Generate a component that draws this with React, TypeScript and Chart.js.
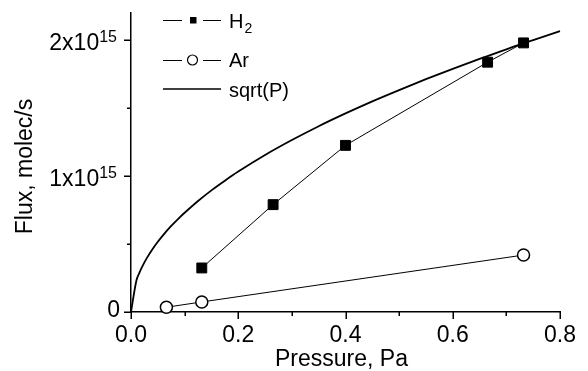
import React, { useEffect, useRef } from 'react';
import { Chart, registerables } from 'chart.js';

Chart.register(...registerables);

// ---- data ----
const h2Pressure = [0.132, 0.265, 0.4, 0.665, 0.732];
const h2Flux = [0.324e15, 0.79e15, 1.226e15, 1.838e15, 1.98e15];

const arPressure = [0.066, 0.132, 0.732];
const arFlux = [0.035e15, 0.074e15, 0.419e15];

const sqrtPressure = [0, 0.01, 0.015, 0.02, 0.03, 0.04, 0.05, 0.06, 0.075, 0.09, 0.1, 0.125, 0.15, 0.175, 0.2, 0.25, 0.3, 0.35, 0.4, 0.45, 0.5, 0.55, 0.6, 0.65, 0.7, 0.75, 0.8];
const sqrtFlux = [0, 0.23e15, 0.283e15, 0.327e15, 0.4e15, 0.462e15, 0.517e15, 0.566e15, 0.633e15, 0.693e15, 0.73e15, 0.817e15, 0.895e15, 0.966e15, 1.033e15, 1.155e15, 1.265e15, 1.367e15, 1.461e15, 1.55e15, 1.633e15, 1.713e15, 1.789e15, 1.862e15, 1.933e15, 2.0e15, 2.066e15];

const xMajorTicks = [0, 0.2, 0.4, 0.6, 0.8];
const xTickLabels = ['0.0', '0.2', '0.4', '0.6', '0.8'];
const xMinorTicks = [0.1, 0.3, 0.5, 0.7];

const yMajorTicks = [0, 1e15, 2e15];
const yTickMantissa = ['0', '1x10', '2x10'];
const yTickExponent = ['', '15', '15'];
const yMinorTicks = [0.5e15, 1.5e15];

const legendMain = ['H', 'Ar', 'sqrt(P)'];
const legendSub = ['2', '', ''];

const xTitle = 'Pressure, Pa';
const yTitle = 'Flux, molec/s';

const FONT = '"Liberation Sans", Arial, Helvetica, sans-serif';

const toPoints = (xs: number[], ys: number[]) => xs.map((x, i) => ({ x, y: ys[i] }));

const axesPlugin = {
  id: 'originAxes',
  afterDraw(chart: any) {
    const ctx = chart.ctx as CanvasRenderingContext2D;
    const xs = chart.scales.x;
    const ys = chart.scales.y;
    const area = chart.chartArea;
    ctx.save();
    ctx.strokeStyle = '#000';
    ctx.fillStyle = '#000';
    ctx.lineWidth = 1.5;

    // x ticks
    ctx.beginPath();
    xMajorTicks.forEach((v) => {
      const px = Math.round(xs.getPixelForValue(v)) + 0.25;
      ctx.moveTo(px, area.bottom);
      ctx.lineTo(px, area.bottom + 7);
    });
    xMinorTicks.forEach((v) => {
      const px = Math.round(xs.getPixelForValue(v)) + 0.25;
      ctx.moveTo(px, area.bottom);
      ctx.lineTo(px, area.bottom + 4);
    });
    // y ticks
    yMajorTicks.forEach((v) => {
      const py = Math.round(ys.getPixelForValue(v)) + 0.25;
      ctx.moveTo(area.left, py);
      ctx.lineTo(area.left - 7, py);
    });
    yMinorTicks.forEach((v) => {
      const py = Math.round(ys.getPixelForValue(v)) + 0.25;
      ctx.moveTo(area.left, py);
      ctx.lineTo(area.left - 4, py);
    });
    ctx.stroke();

    // x tick labels
    ctx.font = `23px ${FONT}`;
    ctx.textAlign = 'center';
    ctx.textBaseline = 'alphabetic';
    xMajorTicks.forEach((v, i) => {
      const px = xs.getPixelForValue(v);
      ctx.fillText(xTickLabels[i], px, area.bottom + 30);
    });

    // y tick labels with superscript
    yMajorTicks.forEach((v, i) => {
      const py = ys.getPixelForValue(v);
      const exp = yTickExponent[i];
      if (exp) {
        ctx.font = `16px ${FONT}`;
        ctx.textAlign = 'right';
        const right = area.left - 14;
        const w = ctx.measureText(exp).width;
        ctx.fillText(exp, right, py + 2);
        ctx.font = `23px ${FONT}`;
        ctx.fillText(yTickMantissa[i], right - w, py + 10);
      } else {
        ctx.font = `23px ${FONT}`;
        ctx.textAlign = 'right';
        ctx.fillText(yTickMantissa[i], area.left - 11, py + 5);
      }
    });

    // axis titles
    ctx.font = `23px ${FONT}`;
    ctx.textAlign = 'center';
    ctx.fillText(xTitle, (area.left + area.right) / 2 - 4, 366);
    ctx.save();
    ctx.translate(32, (area.top + area.bottom) / 2 + 4);
    ctx.rotate(-Math.PI / 2);
    ctx.fillText(yTitle, 0, 0);
    ctx.restore();

    // legend
    const rowsY = [20, 60, 89];
    const textBase = [28, 67, 97];
    ctx.textAlign = 'left';
    rowsY.forEach((y, i) => {
      ctx.strokeStyle = '#000';
      if (i < 2) {
        ctx.lineWidth = 1;
        ctx.beginPath();
        ctx.moveTo(163, y + 0.5);
        ctx.lineTo(182, y + 0.5);
        ctx.moveTo(203, y + 0.5);
        ctx.lineTo(221, y + 0.5);
        ctx.stroke();
        if (i === 0) {
          ctx.fillStyle = '#000';
          ctx.fillRect(190, y - 3, 6.5, 6.5);
        } else {
          ctx.beginPath();
          ctx.arc(192.5, y, 5, 0, Math.PI * 2);
          ctx.fillStyle = '#fff';
          ctx.fill();
          ctx.lineWidth = 1.2;
          ctx.stroke();
        }
      } else {
        ctx.lineWidth = 1.6;
        ctx.beginPath();
        ctx.moveTo(163, y);
        ctx.lineTo(221, y);
        ctx.stroke();
      }
      ctx.fillStyle = '#000';
      ctx.font = `20px ${FONT}`;
      ctx.fillText(legendMain[i], 229, textBase[i]);
      if (legendSub[i]) {
        const w = ctx.measureText(legendMain[i]).width;
        ctx.font = `14px ${FONT}`;
        ctx.fillText(legendSub[i], 229 + w + 1, textBase[i] + 5);
      }
    });

    ctx.restore();
  },
};

export default function App() {
  const canvasRef = useRef<HTMLCanvasElement | null>(null);

  useEffect(() => {
    const canvas = canvasRef.current;
    if (!canvas) return;
    const chart = new Chart(canvas, {
      type: 'line',
      data: {
        datasets: [
          {
            label: 'sqrt(P)',
            data: toPoints(sqrtPressure, sqrtFlux),
            borderColor: '#000',
            borderWidth: 1.8,
            pointRadius: 0,
            cubicInterpolationMode: 'monotone',
            fill: false,
            clip: false as any,
          },
          {
            label: 'H2',
            data: toPoints(h2Pressure, h2Flux),
            borderColor: '#000',
            borderWidth: 1,
            pointStyle: 'rect',
            pointRadius: 7,
            pointBackgroundColor: '#000',
            pointBorderColor: '#000',
            pointBorderWidth: 1,
            fill: false,
            clip: false as any,
          },
          {
            label: 'Ar',
            data: toPoints(arPressure, arFlux),
            borderColor: '#000',
            borderWidth: 1,
            pointStyle: 'circle',
            pointRadius: 6,
            pointBackgroundColor: '#fff',
            pointBorderColor: '#000',
            pointBorderWidth: 1.5,
            fill: false,
            clip: false as any,
          },
        ],
      },
      options: {
        animation: false,
        responsive: false,
        devicePixelRatio: 1,
        layout: { padding: { top: 13, right: 28, left: 0, bottom: 0 } },
        plugins: {
          legend: { display: false },
          tooltip: { enabled: false },
        },
        scales: {
          x: {
            type: 'linear',
            min: 0,
            max: 0.8,
            ticks: { display: false },
            grid: { display: true, drawOnChartArea: false, drawTicks: false },
            border: { display: true, color: '#000', width: 1.5 },
            afterFit: (s: any) => {
              s.height = 59;
            },
          },
          y: {
            type: 'linear',
            min: 0,
            max: 2.2e15,
            ticks: { display: false },
            grid: { display: true, drawOnChartArea: false, drawTicks: false },
            border: { display: true, color: '#000', width: 1.5 },
            afterFit: (s: any) => {
              s.width = 131;
            },
          },
        },
      },
      plugins: [axesPlugin],
    });
    return () => chart.destroy();
  }, []);

  return (
    <div style={{ position: 'fixed', left: 0, top: 0, width: 588, height: 371, background: '#fff' }}>
      <canvas ref={canvasRef} width={588} height={371} style={{ display: 'block' }} />
    </div>
  );
}
